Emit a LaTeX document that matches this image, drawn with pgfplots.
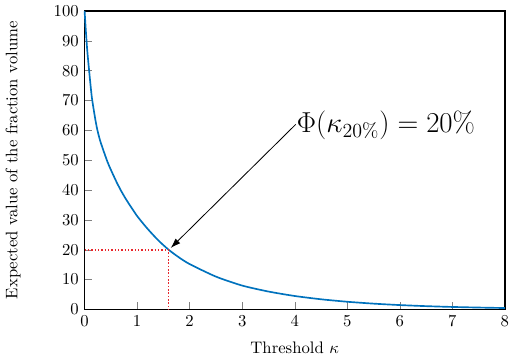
\documentclass[border=0pt]{standalone}
\usepackage{pgfplots}
\pgfplotsset{compat=1.18}
\usetikzlibrary{arrows.meta}
\definecolor{CurveBlue}{HTML}{0072BD}
\definecolor{DotRed}{HTML}{E8262B}

\begin{document}
\begin{tikzpicture}
\begin{axis}[
    scale only axis,
    width=252pt,
    height=179pt,
    xmin=0, xmax=8,
    ymin=0, ymax=100,
    xtick={0,1,...,8},
    ytick={0,10,...,100},
    xtick pos=bottom,
    ytick pos=left,
    tick align=inside,
    xticklabel style={inner xsep=0pt},
    axis line style={line width=0.8pt},
    xlabel={Threshold $\kappa$},
    ylabel={Expected value of the fraction volume},
    xlabel style={yshift=-2.5pt},
    ylabel style={yshift=13pt},
    clip=false,
]
\addplot[CurveBlue, line width=1pt, smooth, tension=0.4] coordinates {
    (0,100) (0.02,94.4) (0.05,86.9) (0.1,77.5) (0.14,70.8) (0.2,64.1)
    (0.24,60.4) (0.3,56.3) (0.43,49.7) (0.5,46.8) (0.6,43.0) (0.69,39.9)
    (0.8,36.6) (1.0,31.3) (1.2,27.0) (1.4,23.2) (1.6,20.0) (1.8,17.4)
    (2.0,15.2) (2.5,11.0) (3.0,8.0) (3.5,6.0) (4.0,4.51) (4.5,3.41)
    (5.0,2.58) (5.5,1.95) (6.0,1.47) (6.5,1.11) (7.0,0.84) (7.5,0.64)
    (8.0,0.48)};
\addplot[draw=DotRed, dash pattern=on 0.9pt off 1.1pt, line width=0.9pt] coordinates {(0,20) (1.6,20) (1.6,0)};
\node[anchor=west, font=\fontsize{18}{22}\selectfont] at (axis cs:3.93,61.8) {$\Phi(\kappa_{20\%}) = 20\%$};
\draw[-{Latex[length=6pt,width=4pt]}, line width=0.5pt] (axis cs:4.02,62) -- (axis cs:1.64,20.6);
\end{axis}
\end{tikzpicture}
\end{document}
